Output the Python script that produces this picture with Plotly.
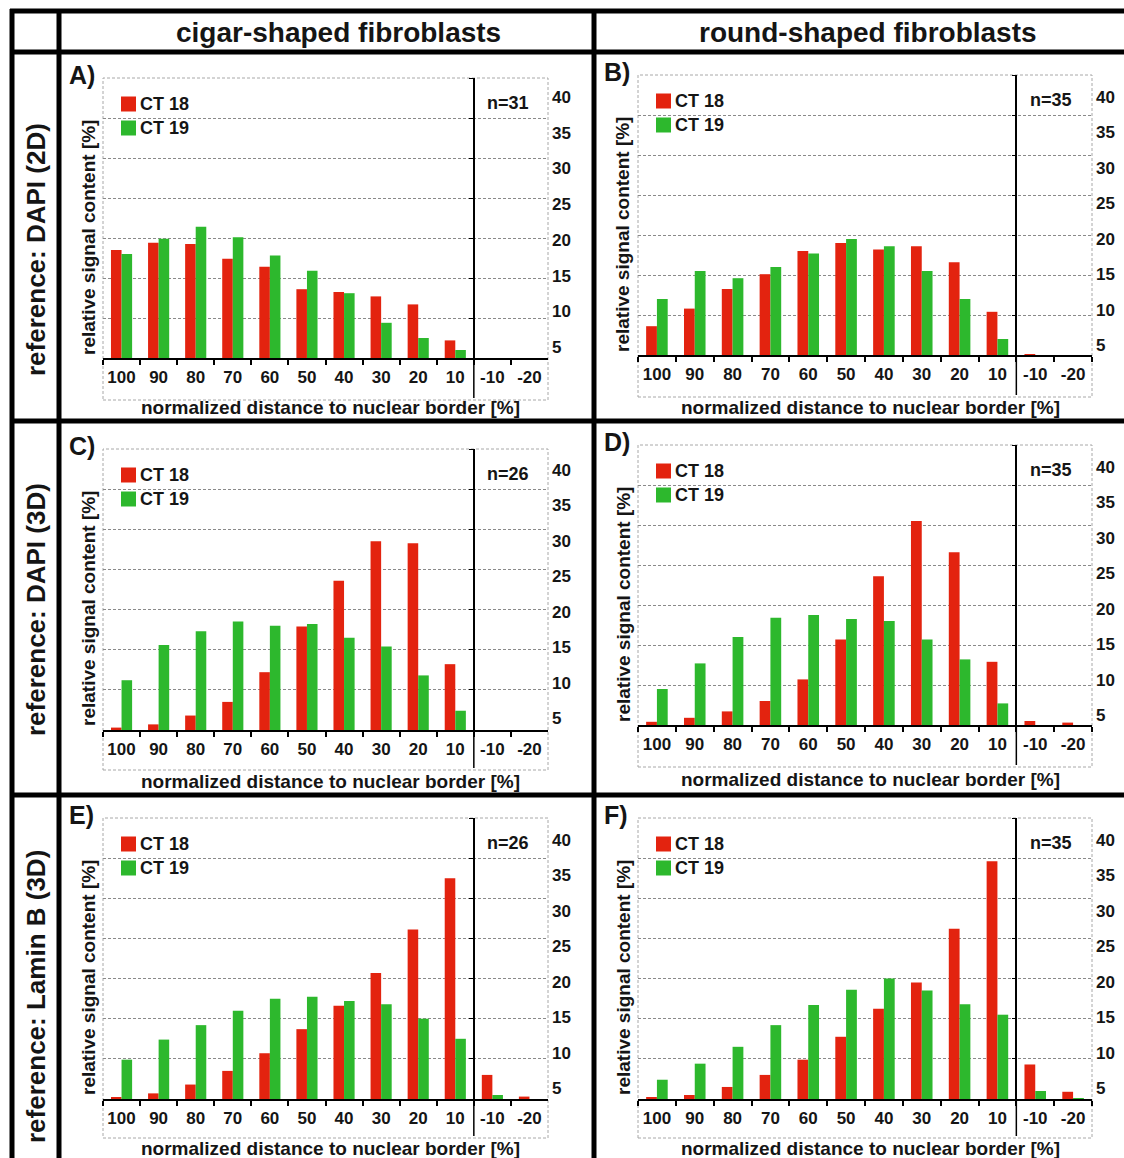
import plotly.graph_objects as go

W, H = 1124, 1158

# normalized distance to nuclear border [%] (shell categories)
distance = ["100", "90", "80", "70", "60", "50", "40", "30", "20", "10", "-10", "-20"]

# relative signal content [%] per shell
ct18_a = [13.5, 14.4, 14.25, 12.4, 11.4, 8.6, 8.25, 7.7, 6.7, 2.2, 0.0, 0.0]
ct19_a = [13.0, 14.9, 16.4, 15.1, 12.8, 10.9, 8.1, 4.4, 2.5, 1.0, 0.0, 0.0]

ct18_b = [3.6, 5.8, 8.25, 10.1, 13.0, 14.0, 13.2, 13.6, 11.6, 5.4, 0.1, 0.0]
ct19_b = [7.0, 10.5, 9.6, 11.0, 12.7, 14.5, 13.6, 10.5, 7.0, 2.0, 0.0, 0.0]

ct18_c = [0.3, 0.7, 1.8, 3.5, 7.2, 12.9, 18.6, 23.5, 23.25, 8.2, 0.0, 0.0]
ct19_c = [6.2, 10.6, 12.3, 13.5, 13.0, 13.2, 11.5, 10.4, 6.8, 2.4, 0.0, 0.0]

ct18_d = [0.4, 0.9, 1.7, 3.0, 5.7, 10.7, 18.6, 25.5, 21.6, 7.9, 0.5, 0.3]
ct19_d = [4.5, 7.7, 11.0, 13.4, 13.75, 13.25, 13.0, 10.7, 8.2, 2.7, 0.0, 0.0]

ct18_e = [0.2, 0.7, 1.8, 3.5, 5.7, 8.7, 11.6, 15.7, 21.1, 27.5, 3.0, 0.3]
ct19_e = [4.9, 7.4, 9.2, 11.0, 12.5, 12.75, 12.2, 11.8, 10.0, 7.5, 0.5, 0.0]

ct18_f = [0.2, 0.5, 1.5, 3.0, 4.9, 7.75, 11.25, 14.5, 21.2, 29.6, 4.3, 0.9]
ct19_f = [2.4, 4.4, 6.5, 9.2, 11.7, 13.6, 15.0, 13.5, 11.8, 10.5, 1.0, 0.1]

ct18_series = [ct18_a, ct18_b, ct18_c, ct18_d, ct18_e, ct18_f]
ct19_series = [ct19_a, ct19_b, ct19_c, ct19_d, ct19_e, ct19_f]

panel_letters = ["A)", "B)", "C)", "D)", "E)", "F)"]
cell_counts = [31, 35, 26, 35, 26, 35]
series_names = ["CT 18", "CT 19"]
column_titles = ["cigar-shaped fibroblasts", "round-shaped fibroblasts"]
row_titles = ["reference: DAPI (2D)", "reference: DAPI (3D)", "reference: Lamin B (3D)"]
scale_labels = [5, 10, 15, 20, 25, 30, 35, 40]

RED = "#e3230f"
GREEN = "#2db82d"
TEXT = "#151515"
GRID = "#8a8a8a"
FRAME = "#a8a8a8"
SANS = "Liberation Sans, Arial, sans-serif"

# panel frames in pixels: left, right, top (35 % line), baseline, frame bottom,
# y of the "40" and "5" scale labels, y of the x-axis title
frames = [
    (103, 548, 78, 358, 400, 97, 347, 408),
    (638, 1092, 75, 355, 397, 97, 345, 408),
    (103, 548, 449, 730, 770, 470, 718, 781),
    (638, 1092, 445, 725, 767, 467, 715, 779),
    (103, 548, 818, 1099, 1138, 840, 1088, 1148),
    (638, 1092, 818, 1099, 1138, 840, 1088, 1148),
]


def px(x):
    return x / W


def py(y):
    return 1 - y / H


fig = go.Figure()
layout = {}
shapes = []
annotations = []

for i, (left, right, top, base, bottom, lab40, lab5, xt_y) in enumerate(frames):
    n = i + 1
    xid = "x" if n == 1 else f"x{n}"
    ybar, ylab, yline = 3 * i + 1, 3 * i + 2, 3 * i + 3
    ybar_id = "y" if ybar == 1 else f"y{ybar}"
    xkey = "xaxis" if n == 1 else f"xaxis{n}"

    for vals, name, color in ((ct18_series[i], series_names[0], RED),
                              (ct19_series[i], series_names[1], GREEN)):
        fig.add_trace(go.Bar(
            x=distance, y=vals, name=name, xaxis=xid, yaxis=ybar_id,
            marker=dict(color=color, line=dict(width=0)),
            showlegend=False, hoverinfo="x+y+name",
        ))

    # empty traces so the scale axis and the split axis get drawn
    for yid in (ylab, yline):
        fig.add_trace(go.Scatter(
            x=[distance[0]], y=[None], xaxis=xid, yaxis=f"y{yid}",
            mode="markers", showlegend=False, hoverinfo="skip",
        ))

    layout[xkey] = dict(
        domain=[px(left), px(right)], anchor=ybar_id, type="category",
        range=[-0.5, 11.5], showgrid=False, zeroline=False,
        showline=True, linecolor="#000", linewidth=1.5,
        ticks="outside", tickson="boundaries", ticklen=5, tickcolor="#000",
        tickwidth=1.5, ticklabelstandoff=3, tickangle=0,
        tickfont=dict(family=SANS, size=17, color=TEXT, weight="bold"),
        fixedrange=True,
    )

    # value axis carrying the bars and the dashed grid
    layout[f"yaxis{ybar}" if ybar > 1 else "yaxis"] = dict(
        domain=[py(base), py(top)], anchor=xid, range=[0, 35],
        showgrid=True, gridcolor=GRID, griddash="3px,2px", gridwidth=1,
        dtick=5, showticklabels=False, ticks="", zeroline=False,
        showline=False, fixedrange=True,
    )

    # right-hand percentage scale
    s = (lab5 - lab40) / 35.0
    v_base = 40 - (base - lab40) / s
    v_top = 40 + (lab40 - top) / s
    layout[f"yaxis{ylab}"] = dict(
        overlaying=ybar_id, anchor=xid, side="right",
        range=[v_base, v_top], tickvals=scale_labels,
        showgrid=False, zeroline=False, showline=False, ticks="",
        ticklabelstandoff=3,
        tickfont=dict(family=SANS, size=17, color=TEXT, weight="bold"),
        fixedrange=True,
    )

    # solid axis between the inner shells and the outside shells
    split_x = left + (right - left) * 10 / 12
    layout[f"yaxis{yline}"] = dict(
        overlaying=ybar_id, anchor="free", position=px(split_x), side="left",
        range=[0, 35], tickvals=[0, 5, 10, 15, 20, 25, 30, 35],
        showticklabels=False, ticks="outside", ticklen=4, tickcolor="#000",
        tickwidth=1.2, showline=True, linecolor="#000", linewidth=1.5,
        showgrid=False, zeroline=False, fixedrange=True,
    )
    shapes.append(dict(type="line", xref="paper", yref="paper",
                       x0=px(split_x), x1=px(split_x), y0=py(base), y1=py(bottom - 2),
                       line=dict(color="#000", width=1.5)))

    # dashed plot-area frame
    shapes.append(dict(type="rect", xref="paper", yref="paper",
                       x0=px(left), x1=px(right), y0=py(bottom), y1=py(top),
                       line=dict(color=FRAME, width=1, dash="3px,2px"), layer="below"))

    # legend keys
    for k, (name, color) in enumerate(zip(series_names, (RED, GREEN))):
        cy = top + 26 + 24 * k
        shapes.append(dict(type="rect", xref="paper", yref="paper",
                           x0=px(left + 18), x1=px(left + 33),
                           y0=py(cy + 7.5), y1=py(cy - 7.5),
                           line=dict(width=0), fillcolor=color))
        annotations.append(dict(text=name, xref="paper", yref="paper",
                                x=px(left + 35), y=py(cy), xanchor="left", yanchor="middle",
                                showarrow=False,
                                font=dict(family=SANS, size=18, color=TEXT, weight="bold")))

    annotations.append(dict(text=f"n={cell_counts[i]}", xref="paper", yref="paper",
                            x=px(split_x + (right - split_x) / 2 - 3), y=py(top + 25),
                            xanchor="center", yanchor="middle", showarrow=False,
                            font=dict(family=SANS, size=18, color=TEXT, weight="bold")))
    annotations.append(dict(text=panel_letters[i], xref="paper", yref="paper",
                            x=px(left - 36), y=py(top - 3), xanchor="left", yanchor="middle",
                            showarrow=False,
                            font=dict(family=SANS, size=25, color=TEXT, weight="bold")))
    annotations.append(dict(text="relative signal content [%]", xref="paper", yref="paper",
                            x=px(left - 15), y=py(top + 160), textangle=-90,
                            xanchor="center", yanchor="middle", showarrow=False,
                            font=dict(family=SANS, size=19, color=TEXT, weight="bold")))
    annotations.append(dict(text="normalized distance to nuclear border [%]",
                            xref="paper", yref="paper",
                            x=px((left + right) / 2 + 5), y=py(xt_y),
                            xanchor="center", yanchor="middle", showarrow=False,
                            font=dict(family=SANS, size=19, color=TEXT, weight="bold")))

# table headers
for title, cx in zip(column_titles, (338, 868)):
    annotations.append(dict(text=title, xref="paper", yref="paper", x=px(cx), y=py(33),
                            xanchor="center", yanchor="middle", showarrow=False,
                            font=dict(family=SANS, size=28, color=TEXT, weight="bold")))
for title, cy in zip(row_titles, (250, 610, 997)):
    annotations.append(dict(text=title, xref="paper", yref="paper", x=px(36), y=py(cy),
                            textangle=-90, xanchor="center", yanchor="middle", showarrow=False,
                            font=dict(family=SANS, size=26, color=TEXT, weight="bold")))

# table rules
for y in (11, 52, 421, 795):
    shapes.append(dict(type="line", xref="paper", yref="paper", x0=px(10), x1=1,
                       y0=py(y), y1=py(y), line=dict(color="#000", width=5)))
for x in (12, 59, 594):
    shapes.append(dict(type="line", xref="paper", yref="paper", x0=px(x), x1=px(x),
                       y0=py(9), y1=0, line=dict(color="#000", width=5)))

fig.update_layout(
    width=W, height=H, autosize=False, margin=dict(l=0, r=0, t=0, b=0),
    paper_bgcolor="white", plot_bgcolor="white",
    barmode="group", bargap=0.43, bargroupgap=0.0,
    showlegend=False, shapes=shapes, annotations=annotations,
    **layout,
)

fig.write_html("out.html", config={"responsive": False})
